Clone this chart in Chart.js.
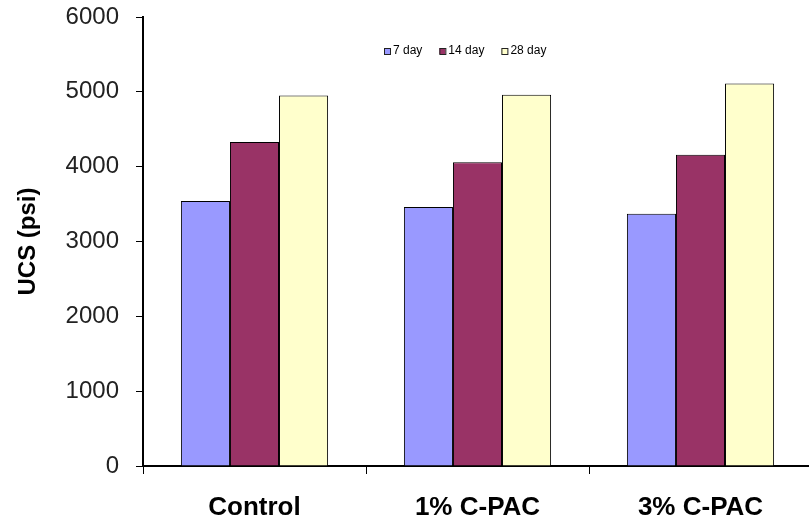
<!DOCTYPE html>
<html>
<head>
<meta charset="utf-8">
<script src="https://cdn.jsdelivr.net/npm/chart.js@4"></script>
<style>
  html, body { margin: 0; padding: 0; background: #fff; overflow: hidden; }
  #wrap { width: 815px; height: 522px; }
</style>
</head>
<body>
<div id="wrap"><canvas id="ucs" width="815" height="522"></canvas></div>
<script>
const categories = ["Control", "1% C-PAC", "3% C-PAC"];
const seriesNames = ["7 day", "14 day", "28 day"];
const day7 = [3540, 3460, 3370];
const day14 = [4330, 4060, 4160];
const day28 = [4950, 4960, 5110];
const yTicks = [0, 1000, 2000, 3000, 4000, 5000, 6000];

const fillColors = ["#9999ff", "#993366", "#ffffcc"];
const fontName = "'Liberation Sans', Arial, sans-serif";

//legend drawn inside the plot, small boxes like excel
const insideLegend = {
  id: "insideLegend",
  afterDraw(chart) {
    const ctx = chart.ctx;
    ctx.save();
    ctx.font = "12px " + fontName;
    ctx.textBaseline = "middle";
    let x = 384;
    const y = 51;
    chart.data.datasets.forEach((ds) => {
      ctx.fillStyle = ds.backgroundColor;
      ctx.fillRect(x, y - 3, 6, 6);
      ctx.strokeStyle = "#222";
      ctx.lineWidth = 1;
      ctx.strokeRect(x + 0.5, y - 2.5, 6, 6);
      ctx.fillStyle = "#000";
      ctx.fillText(ds.label, x + 9, y);
      x += 9 + ctx.measureText(ds.label).width + 17;
    });
    ctx.restore();
  },
};

new Chart(document.querySelector("#ucs").getContext("2d"), {
  type: "bar",
  data: {
    labels: categories,
    datasets: [day7, day14, day28].map((values, i) => ({
      label: seriesNames[i],
      data: values,
      backgroundColor: fillColors[i],
      borderColor: "#000",
      borderWidth: 1,
      categoryPercentage: 0.66,
      barPercentage: 1,
    })),
  },
  options: {
    responsive: false,
    animation: false,
    layout: { padding: { top: 17, right: 3, left: 0, bottom: 0 } },
    plugins: {
      legend: { display: false },
      tooltip: { enabled: false },
    },
    scales: {
      x: {
        grid: {
          offset: true,
          drawOnChartArea: false,
          color: "#000",
          tickLength: 8,
        },
        border: { color: "#000", width: 2 },
        ticks: {
          color: "#000",
          padding: 18,
          font: { family: fontName, size: 26, weight: "bold" },
        },
        afterFit(scale) {
          scale.height = 56;
        },
      },
      y: {
        min: 0,
        max: 6000,
        afterBuildTicks(scale) {
          scale.ticks = yTicks.map((v) => ({ value: v }));
        },
        grid: {
          drawOnChartArea: false,
          color: "#000",
          tickLength: 7,
        },
        border: { color: "#000", width: 2 },
        ticks: {
          color: "#222",
          padding: 17,
          font: { family: fontName, size: 24 },
          callback: (v) => String(v),
        },
        title: {
          display: true,
          text: "UCS (psi)",
          color: "#000",
          padding: { top: 14, bottom: 0 },
          font: { family: fontName, size: 24, weight: "bold" },
        },
        afterFit(scale) {
          scale.width = 143;
          //labels overflow the top, the layout padding covers it
          scale.paddingTop = 0;
          scale.paddingBottom = 0;
        },
      },
    },
  },
  plugins: [insideLegend],
});
</script>
</body>
</html>
